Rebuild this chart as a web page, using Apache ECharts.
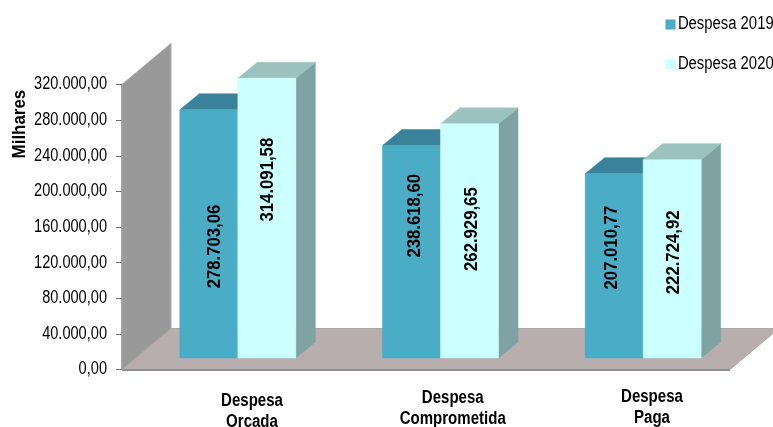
<!DOCTYPE html>
<html>
<head>
<meta charset="utf-8">
<style>html,body{margin:0;padding:0;background:#fff;overflow:hidden}#c{width:773px;height:427px}</style>
<script src="https://cdn.jsdelivr.net/npm/echarts@6/dist/echarts.min.js"></script>
</head>
<body>
<div id="c"></div>
<script>
var categories = ['Despesa\nOrcada', 'Despesa\nComprometida', 'Despesa\nPaga'];
var seriesNames = ['Despesa 2019', 'Despesa 2020'];
var despesa2019 = [278703.06, 238618.60, 207010.77];
var despesa2020 = [314091.58, 262929.65, 222724.92];
var yTickMax = 320000;
var yTickStep = 40000;

var FONT = '"Liberation Sans",Arial,sans-serif';
var depth = { wallX: 49, wallY: 41, barX: 19.5, barY: 16, lift: 11.5, shift: 14.5, half: 58 };
var palette = [
  { front: '#4bacc6', top: '#3a8299', side: '#3a8299' },
  { front: '#ccffff', top: '#9cc2c0', side: '#7fa3a3' }
];
var labelNudge = [
  [[6, 136.7], [3.3, 70.3], [-2.3, 74]],
  [[0.7, 101.4], [2.7, 105.3], [1.3, 92.7]]
];
var catPadding = [[5, 0, 0, 68.7], [2, 0, 0, 64], [1, 0, 0, 55.8]];
var narrow = { regular: 0.81, legend: 0.825, category: 0.835, name: 0.94, value: 0.88 };

function brNumber(v) {
  var p = v.toFixed(2).split('.');
  return p[0].replace(/\B(?=(\d{3})+$)/g, '.') + ',' + p[1];
}
function poly(points, fill, stroke) {
  return { type: 'polygon', shape: { points: points },
           style: { fill: fill, stroke: stroke || fill, lineWidth: stroke ? 1 : 0.5 } };
}
function barRenderer(si) {
  return function (params, api) {
    var c = api.value(0);
    var p = api.coord([c, api.value(1)]);
    var b = api.coord([c, 0]);
    var cx = p[0] + depth.shift;
    var l = si === 0 ? cx - depth.half : cx;
    var r = l + depth.half;
    var top = p[1] - depth.lift;
    var bot = b[1] - depth.lift;
    var dx = depth.barX, dy = depth.barY;
    var col = palette[si];
    var n = labelNudge[si][c];
    return { type: 'group', children: [
      poly([[r, top], [r + dx, top - dy], [r + dx, bot - dy], [r, bot]], col.side),
      poly([[l, top], [l + dx, top - dy], [r + dx, top - dy], [r, top]], col.top),
      poly([[l, top], [r, top], [r, bot], [l, bot]], col.front),
      { type: 'text', x: (l + r) / 2 + n[0], y: top + n[1], rotation: Math.PI / 2, scaleX: narrow.value,
        style: { text: brNumber(api.value(1)), fill: '#000', font: 'bold 19px ' + FONT,
                 align: 'center', verticalAlign: 'middle' } }
    ] };
  };
}
function roomRenderer(params, api) {
  var cs = params.coordSys;
  var x0 = cs.x, x1 = cs.x + cs.width;
  var y0 = api.coord([0, 0])[1], yT = api.coord([0, yTickMax])[1];
  var dx = depth.wallX, dy = depth.wallY;
  return { type: 'group', children: [
    poly([[x0, y0], [x0 + dx, y0 - dy], [x1 + dx, y0 - dy], [x1, y0]], '#b8aeae', '#b0a8a8'),
    poly([[x0, y0], [x0, yT], [x0 + dx, yT - dy], [x0 + dx, y0 - dy]], '#999999', '#a8a8a8'),
    { type: 'line', shape: { x1: x0, y1: y0 + 0.5, x2: x1, y2: y0 + 0.5 }, style: { stroke: '#909090', lineWidth: 2 } }
  ] };
}

var chart = echarts.init(document.getElementById('c'), null, { renderer: 'canvas' });
chart.setOption({
  animation: false,
  backgroundColor: '#fff',
  grid: { left: 122, right: 43, top: 84.5, height: 285, outerBoundsMode: 'none' },
  legend: {
    data: seriesNames, orient: 'vertical', left: 665.5, top: 15.5,
    itemWidth: 10, itemHeight: 10, itemGap: 22, icon: 'rect', padding: 0,
    textStyle: { fontFamily: FONT, fontSize: 18, color: '#000', padding: [2, 0, 0, 0] }
  },
  xAxis: {
    type: 'category',
    data: categories.map(function (c, i) {
      return { value: c, textStyle: { padding: catPadding[i] } };
    }),
    axisLine: { show: false }, axisTick: { show: false },
    axisLabel: { interval: 0, margin: 16, fontFamily: FONT, fontSize: 18, fontWeight: 'bold',
                 color: '#000', lineHeight: 21, hideOverlap: false }
  },
  yAxis: {
    type: 'value', min: 0, max: yTickMax, interval: yTickStep,
    name: 'Milhares', nameLocation: 'middle', nameRotate: 90, nameGap: 93, nameMoveOverlap: false,
    nameTextStyle: { fontFamily: FONT, fontSize: 18, fontWeight: 'bold', color: '#000', padding: [0, 0, 0, 219] },
    splitLine: { show: false },
    axisLine: { show: true, lineStyle: { color: '#808080', width: 1.5 } },
    axisTick: { show: true, length: 6, lineStyle: { color: '#707070', width: 1 } },
    axisLabel: { margin: 15, fontFamily: FONT, fontSize: 18, color: '#000', padding: [4, 0, 0, 0],
                 formatter: function (v) { return brNumber(v); } }
  },
  series: [
    { type: 'custom', name: 'room', silent: true, clip: false, z: 1, data: [[0, 0]], encode: { x: 0, y: 1 }, renderItem: roomRenderer },
    { type: 'custom', name: seriesNames[0], clip: false, z: 2, itemStyle: { color: palette[0].front },
      data: despesa2019.map(function (v, i) { return [i, v]; }), encode: { x: 0, y: 1 }, renderItem: barRenderer(0) },
    { type: 'custom', name: seriesNames[1], clip: false, z: 3, itemStyle: { color: palette[1].front },
      data: despesa2020.map(function (v, i) { return [i, v]; }), encode: { x: 0, y: 1 }, renderItem: barRenderer(1) }
  ]
});

/* The source lettering is a condensed face; squeeze the installed one along its reading direction. */
chart.getZr().storage.traverse(function (el) {
  if (el.type !== 'text' || el.scaleX !== 1) return;
  var bold = el.style && el.style.fontWeight === 'bold';
  if (bold) el.scaleX = el.rotation ? narrow.name : narrow.category;
  else el.scaleX = seriesNames.indexOf(el.style.text) >= 0 ? narrow.legend : narrow.regular;
  el.markRedraw();
});
</script>
</body>
</html>
